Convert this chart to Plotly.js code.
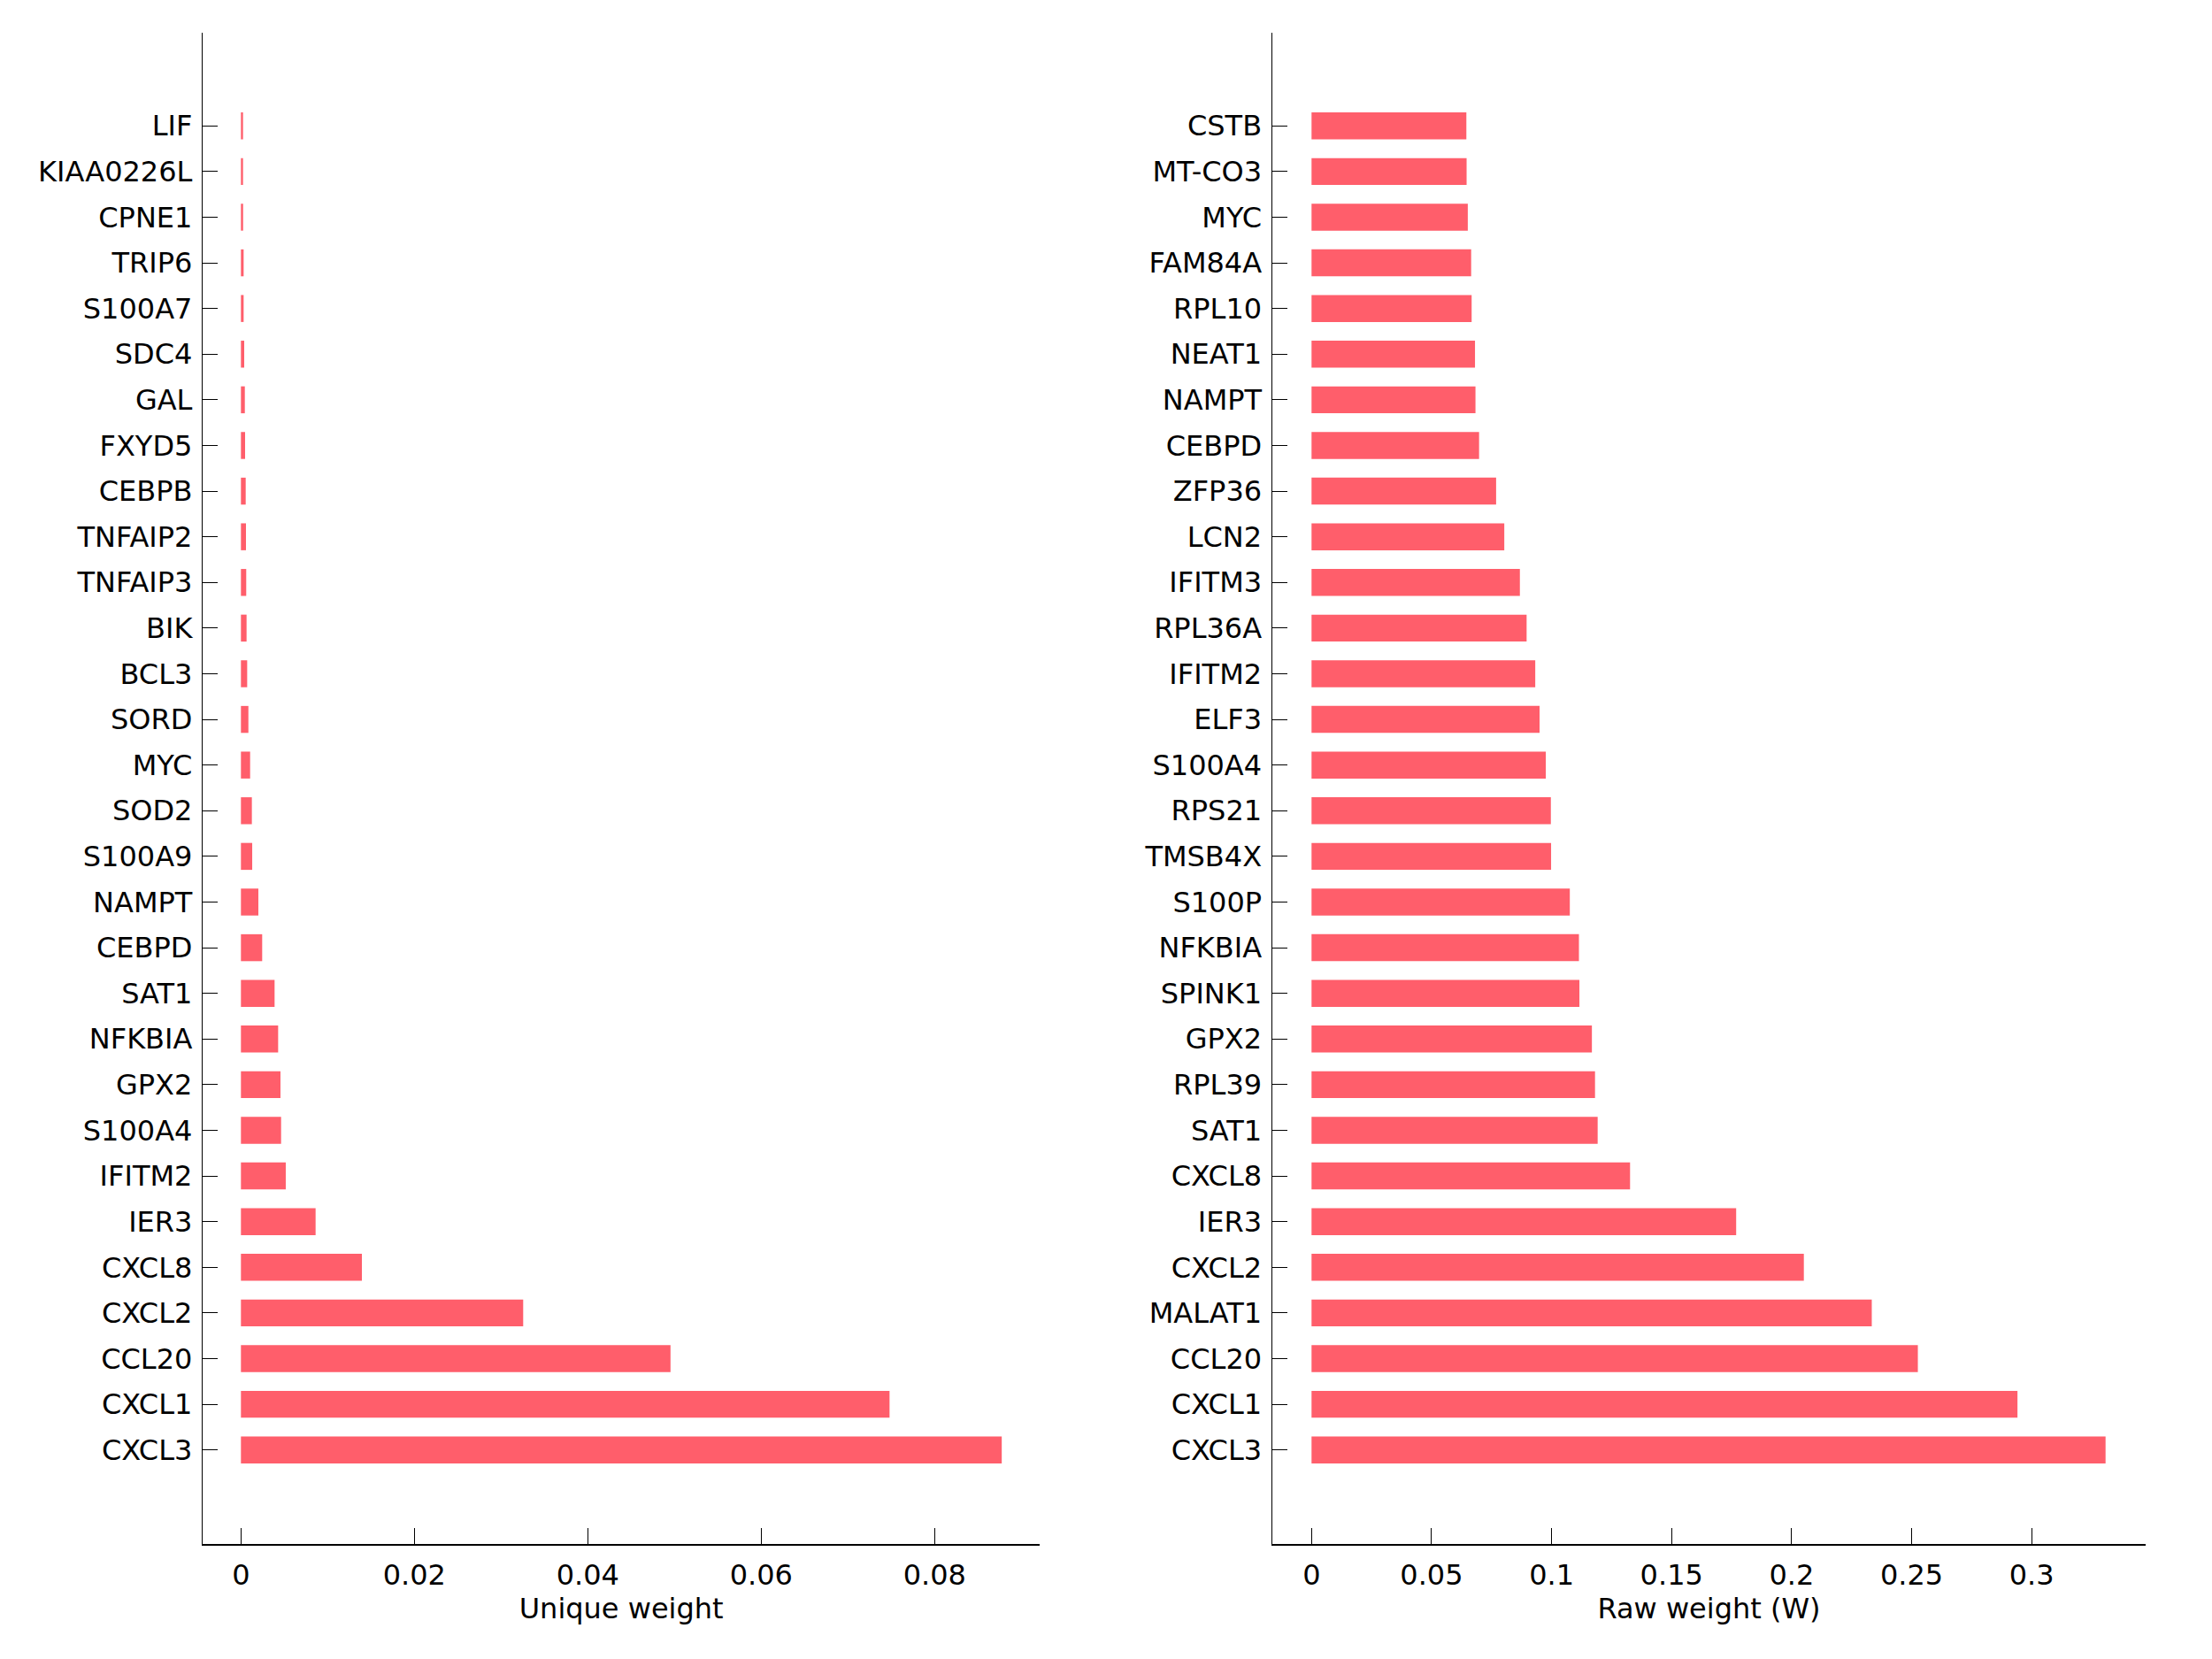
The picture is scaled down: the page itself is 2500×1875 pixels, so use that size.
<!DOCTYPE html>
<html>
<head>
<meta charset="utf-8">
<script src="https://cdn.plot.ly/plotly-3.0.1.min.js"></script>
<style>html,body{margin:0;padding:0;background:#fff;}#chart{width:2500px;height:1875px;}</style>
</head>
<body>
<div id="chart"></div>
<script>
// Left panel: unique weight (top to bottom as displayed)
const uniqueGenes = ["LIF","KIAA0226L","CPNE1","TRIP6","S100A7","SDC4","GAL","FXYD5","CEBPB","TNFAIP2","TNFAIP3","BIK","BCL3","SORD","MYC","SOD2","S100A9","NAMPT","CEBPD","SAT1","NFKBIA","GPX2","S100A4","IFITM2","IER3","CXCL8","CXCL2","CCL20","CXCL1","CXCL3"];
const uniqueWeights = [0.00024,0.00024,0.00025,0.00031,0.00031,0.00038,0.00045,0.00048,0.00055,0.00058,0.00061,0.00065,0.00072,0.00086,0.00106,0.00126,0.0013,0.00201,0.00245,0.00388,0.00429,0.00456,0.00463,0.00517,0.00861,0.01395,0.03255,0.04954,0.0748,0.08774];

// Right panel: raw weight (W)
const rawGenes = ["CSTB","MT-CO3","MYC","FAM84A","RPL10","NEAT1","NAMPT","CEBPD","ZFP36","LCN2","IFITM3","RPL36A","IFITM2","ELF3","S100A4","RPS21","TMSB4X","S100P","NFKBIA","SPINK1","GPX2","RPL39","SAT1","CXCL8","IER3","CXCL2","MALAT1","CCL20","CXCL1","CXCL3"];
const rawWeights = [0.0645,0.0646,0.0651,0.0665,0.0667,0.0681,0.0683,0.0698,0.0769,0.0803,0.0868,0.0896,0.0932,0.0950,0.0976,0.0997,0.0998,0.1076,0.1114,0.1116,0.1168,0.1181,0.1192,0.1327,0.1769,0.2051,0.2334,0.2526,0.2941,0.3308];

const leftTickVals = [0,0.02,0.04,0.06,0.08];
const leftTickText = ["0","0.02","0.04","0.06","0.08"];
const rightTickVals = [0,0.05,0.1,0.15,0.2,0.25,0.3];
const rightTickText = ["0","0.05","0.1","0.15","0.2","0.25","0.3"];

const barColor = '#FF5E6B';
const fontFam = 'DejaVu Sans, sans-serif';

const traces = [
  {type:'bar', orientation:'h', x:uniqueWeights, y:uniqueGenes, xaxis:'x', yaxis:'y',
   marker:{color:barColor, line:{width:0}}, width:0.59, hoverinfo:'none'},
  {type:'bar', orientation:'h', x:rawWeights, y:rawGenes, xaxis:'x2', yaxis:'y2',
   marker:{color:barColor, line:{width:0}}, width:0.59, hoverinfo:'none'}
];

const yCommon = {
  type:'category', showline:true, linecolor:'#000', linewidth:1.5,
  ticks:'inside', ticklen:17, tickwidth:1, tickcolor:'#000',
  showgrid:false, zeroline:false, range:[31.06,-2.04],
  tickfont:{family:fontFam, size:32, color:'#000'}, ticklabelstandoff:4,
  domain:[0.06933,0.98027]
};
const xCommon = {
  showline:true, linecolor:'#000', linewidth:1.5,
  ticks:'inside', ticklen:18, tickwidth:1, tickcolor:'#000',
  showgrid:false, zeroline:false,
  tickfont:{family:fontFam, size:32, color:'#000'}, ticklabelstandoff:6
};

const layout = {
  width:2500, height:1875,
  margin:{l:0,r:0,t:0,b:0},
  paper_bgcolor:'#fff', plot_bgcolor:'#fff',
  showlegend:false, hovermode:false,
  font:{family:fontFam, color:'#000'},
  xaxis: Object.assign({}, xCommon, {
    domain:[229.3/2500, 1175/2500], anchor:'y',
    range:[-0.004388, 0.09211],
    tickvals:leftTickVals, ticktext:leftTickText,
    title:{text:'Unique weight', font:{family:fontFam, size:32, color:'#000'}, standoff:5}
  }),
  yaxis: Object.assign({}, yCommon, {anchor:'x', categoryorder:'array', categoryarray:uniqueGenes}),
  xaxis2: Object.assign({}, xCommon, {
    domain:[1438/2500, 2425/2500], anchor:'y2',
    range:[-0.01633, 0.3475],
    tickvals:rightTickVals, ticktext:rightTickText,
    title:{text:'Raw weight (W)', font:{family:fontFam, size:32, color:'#000'}, standoff:5}
  }),
  yaxis2: Object.assign({}, yCommon, {anchor:'x2', categoryorder:'array', categoryarray:rawGenes})
};

Plotly.newPlot('chart', traces, layout, {displayModeBar:false, staticPlot:true});
</script>
</body>
</html>
